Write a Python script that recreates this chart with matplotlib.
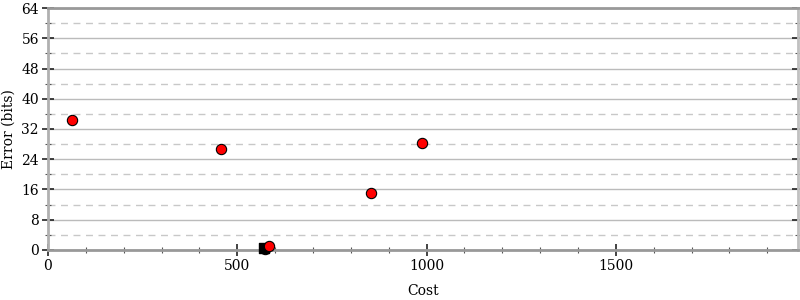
import matplotlib
matplotlib.use("Agg")
import matplotlib.pyplot as plt
from matplotlib.ticker import MultipleLocator

plt.rcParams['font.family'] = 'DejaVu Serif'

# points
cost = [64, 458, 852, 987, 585]
error = [34.4, 26.6, 15.1, 28.4, 1.0]
hidden_cost = [574]
hidden_error = [0.2]
best_cost = [570]
best_error = [0.4]

fig = plt.figure(figsize=(8, 3), dpi=100)
ax = fig.add_axes([0.06, 0.167, 0.937, 0.806])

ax.set_xlim(0, 1980)
ax.set_ylim(0, 64)
ax.xaxis.set_major_locator(MultipleLocator(500))
ax.xaxis.set_minor_locator(MultipleLocator(100))
ax.yaxis.set_major_locator(MultipleLocator(8))
ax.yaxis.set_minor_locator(MultipleLocator(4))

ax.grid(True, which='major', axis='y', color='#bbbbbb', lw=1, ls='-')
ax.grid(True, which='minor', axis='y', color='#c8c8c8', lw=1, ls=(0, (5, 4)))
ax.set_axisbelow(True)

for s in ['left', 'bottom', 'top', 'right']:
    ax.spines[s].set_color('#999999')
    ax.spines[s].set_linewidth(2)
ax.spines['right'].set_color('#c0c0c0')
ax.spines['left'].set_color('#b0b0b0')

ax.tick_params(which='major', direction='inout', length=9, width=1.2, color='#222222',
               labelsize=10, right=True, pad=2)
ax.tick_params(which='minor', direction='inout', length=5, width=0.8, color='#555555',
               right=True)

ax.scatter(hidden_cost, hidden_error, s=55, color='red', edgecolor='black', lw=0.8, zorder=3,
           clip_on=False)
ax.scatter(best_cost, best_error, s=45, marker='s', color='black', zorder=4, clip_on=False)
ax.scatter(cost, error, s=55, color='red', edgecolor='black', lw=0.8, zorder=5, clip_on=False)

ax.set_xlabel('Cost', fontsize=10, labelpad=8)
ax.set_ylabel('Error (bits)', fontsize=10, labelpad=4)

fig.savefig('out.png', dpi=100)
